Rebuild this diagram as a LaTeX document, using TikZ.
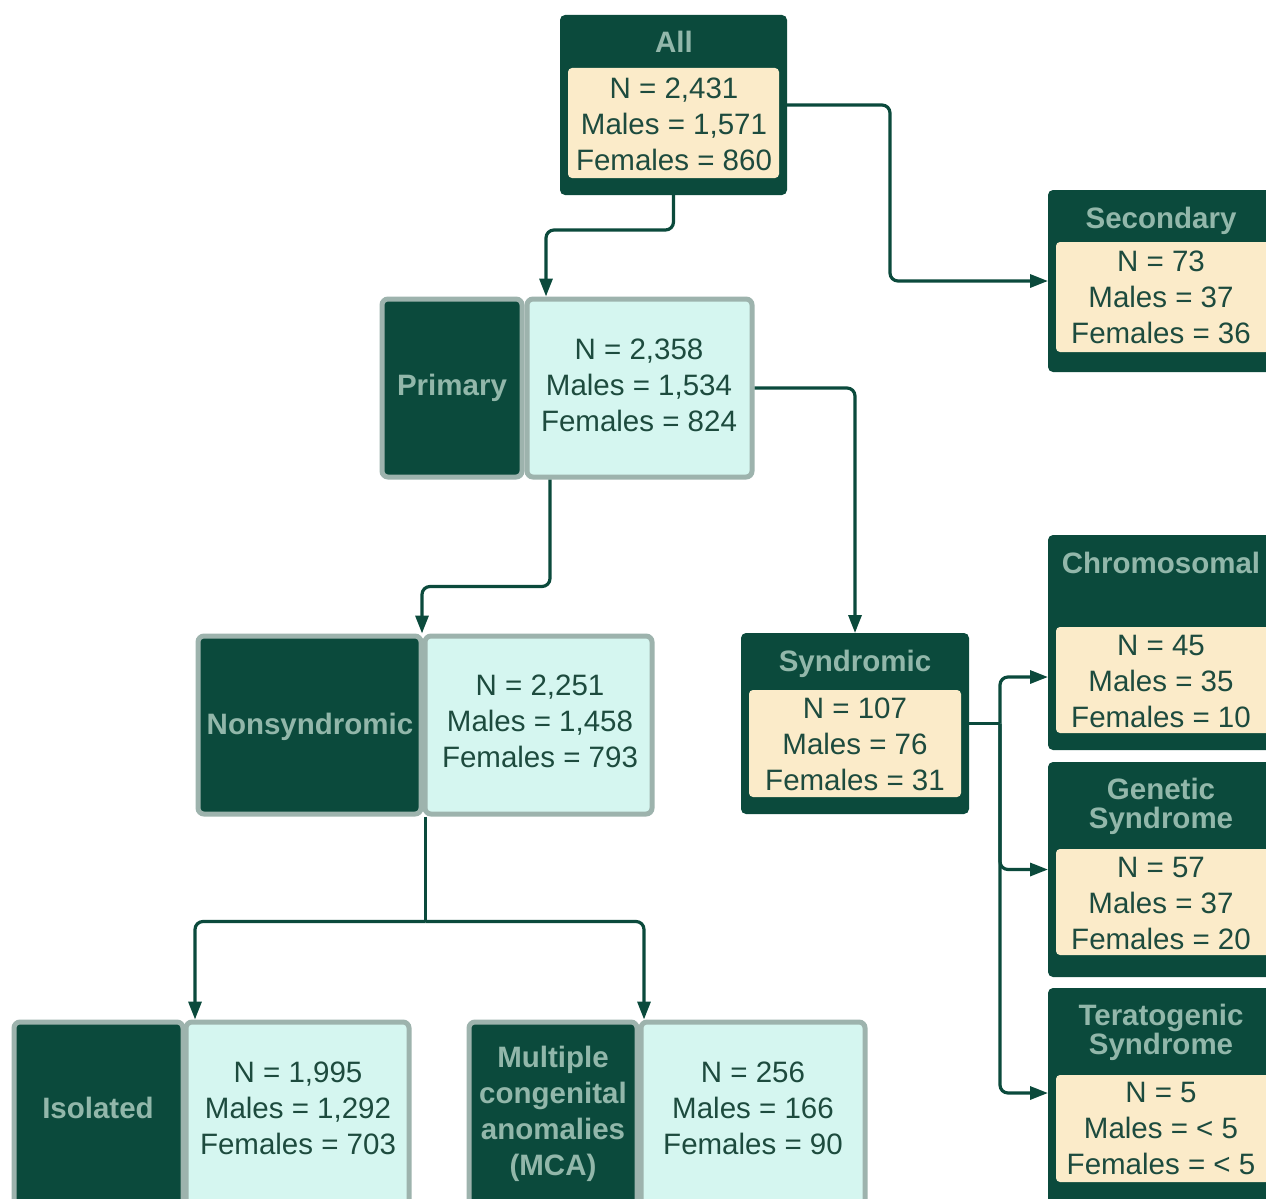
\documentclass[tikz,border=0pt]{standalone}
\usepackage{fontspec}
\setmainfont{Liberation Sans}
\usetikzlibrary{arrows.meta}
\definecolor{dk}{HTML}{0B4A3C}
\definecolor{lt}{HTML}{92B7AA}
\definecolor{cream}{HTML}{FBEBC9}
\definecolor{cy}{HTML}{D5F6F0}
\definecolor{bord}{HTML}{9DB3AD}
\definecolor{tx}{HTML}{1D4B3E}
\tikzset{
  darkbox/.style={fill=dk, draw=none, rounded corners=5pt, inner sep=0pt, outer sep=0pt},
  creambox/.style={fill=cream, rounded corners=4pt, inner sep=0pt, outer sep=0pt},
  labbox/.style={fill=dk, draw=bord, line width=5pt, rounded corners=6pt, inner sep=0pt},
  cybox/.style={fill=cy, draw=bord, line width=5pt, rounded corners=6pt, inner sep=0pt},
  ttl/.style={font=\fontsize{29.5}{29}\selectfont\bfseries, text=lt, align=center, inner sep=0pt},
  lbl/.style={font=\fontsize{29.5}{36}\selectfont\bfseries, text=lt, align=center, inner sep=0pt},
  num/.style={font=\fontsize{29.5}{36}\selectfont, text=tx, align=center, inner sep=0pt},
  conn/.style={draw=dk, line width=3.2pt, rounded corners=8pt},
  arr/.style={conn, -{Triangle[length=18pt,width=13pt]}}
}
\begin{document}
\begin{tikzpicture}[x=1pt,y=-1pt]
\fill[white] (0,0) rectangle (1266,1199);
\useasboundingbox (0,0) rectangle (1266,1199);

% All
\node[darkbox, minimum width=227pt, minimum height=180pt] (all) at (673.5,105) {};
\node[creambox, minimum width=211pt, minimum height=110pt] (all-in) at (673.5,123) {};
\node[ttl] (all-t) at (674,42) {All};
\node[num] (all-n) at (674,124) {N = 2,431\\Males = 1,571\\Females = 860};

% Secondary
\node[darkbox, minimum width=224pt, minimum height=182pt] (sec) at (1160,281) {};
\node[creambox, minimum width=216pt, minimum height=110pt] (sec-in) at (1164,297) {};
\node[ttl] (sec-t) at (1161,221) {Secondary};
\node[num] (sec-n) at (1161,297) {N = 73\\Males = 37\\Females = 36};

% Primary
\node[labbox, minimum width=140pt, minimum height=178pt] (prim-l) at (452,388) {};
\node[cybox, minimum width=225pt, minimum height=178pt] (prim-c) at (639.5,388) {};
\node[lbl] (prim-lt) at (452,388) {Primary};
\node[num] (prim-n) at (639,385) {N = 2,358\\Males = 1,534\\Females = 824};

% Nonsyndromic
\node[labbox, minimum width=223pt, minimum height=178pt] (non-l) at (309.5,725) {};
\node[cybox, minimum width=227pt, minimum height=178pt] (non-c) at (538.5,725) {};
\node[lbl] (non-lt) at (310,727) {Nonsyndromic};
\node[num] (non-n) at (540,721) {N = 2,251\\Males = 1,458\\Females = 793};

% Syndromic
\node[darkbox, minimum width=228pt, minimum height=181pt] (syn) at (855,723.5) {};
\node[creambox, minimum width=212pt, minimum height=107pt] (syn-in) at (855,743.5) {};
\node[ttl] (syn-t) at (855,664) {Syndromic};
\node[num] (syn-n) at (855,744) {N = 107\\Males = 76\\Females = 31};

% Chromosomal
\node[darkbox, minimum width=224pt, minimum height=215pt] (chr) at (1160,642.5) {};
\node[creambox, minimum width=216pt, minimum height=106pt] (chr-in) at (1164,680) {};
\node[ttl] (chr-t) at (1161,563) {Chromosomal};
\node[num] (chr-n) at (1161,681) {N = 45\\Males = 35\\Females = 10};

% Genetic Syndrome
\node[darkbox, minimum width=224pt, minimum height=215pt] (gen) at (1160,869.5) {};
\node[creambox, minimum width=216pt, minimum height=106pt] (gen-in) at (1164,902) {};
\node[ttl] (gen-t) at (1161,806.5) {Genetic\\Syndrome};
\node[num] (gen-n) at (1161,903) {N = 57\\Males = 37\\Females = 20};

% Teratogenic Syndrome
\node[darkbox, minimum width=224pt, minimum height=222pt] (ter) at (1160,1099) {};
\node[creambox, minimum width=216pt, minimum height=107pt] (ter-in) at (1164,1128.5) {};
\node[ttl] (ter-t) at (1161,1032.5) {Teratogenic\\Syndrome};
\node[num] (ter-n) at (1161,1128) {N = 5\\Males = < 5\\Females = < 5};

% Isolated
\node[labbox, minimum width=169pt, minimum height=184pt] (iso-l) at (98.5,1114) {};
\node[cybox, minimum width=223pt, minimum height=184pt] (iso-c) at (297.5,1114) {};
\node[lbl] (iso-lt) at (98,1108) {Isolated};
\node[num] (iso-n) at (298,1108) {N = 1,995\\Males = 1,292\\Females = 703};

% MCA
\node[labbox, minimum width=168pt, minimum height=184pt] (mca-l) at (553,1114) {};
\node[cybox, minimum width=224pt, minimum height=184pt] (mca-c) at (753,1114) {};
\node[lbl] (mca-lt) at (553,1114) {Multiple\\congenital\\anomalies\\(MCA)};
\node[num] (mca-n) at (753,1108) {N = 256\\Males = 166\\Females = 90};

% Connectors
\draw[arr] (all.south) -- ++(0,35) -| ([xshift=-93.5pt]prim-c.north);
\draw[arr] (all.east) -- ++(103,0) |- (sec.west);
\draw[arr] (prim-c.east) -| (syn.north);
\draw[arr] ([xshift=-89.5pt]prim-c.south) -- ++(0,107) -| ([xshift=-116.5pt]non-c.north);
\draw[conn] ([xshift=3pt]non-c.south west) -- ++(0,105) coordinate (nsj);
\draw[arr] (nsj) -| ([xshift=-102.5pt]iso-c.north);
\draw[arr] (nsj) -| ([xshift=-109pt]mca-c.north);
\draw[conn] (syn.east) -- ++(31,0) coordinate (sj);
\draw[arr] (sj) |- ([yshift=-34.5pt]chr.west);
\draw[arr] (sj) |- (gen.west);
\draw[arr] (sj) |- ([yshift=6pt]ter.west);
\end{tikzpicture}
\end{document}
